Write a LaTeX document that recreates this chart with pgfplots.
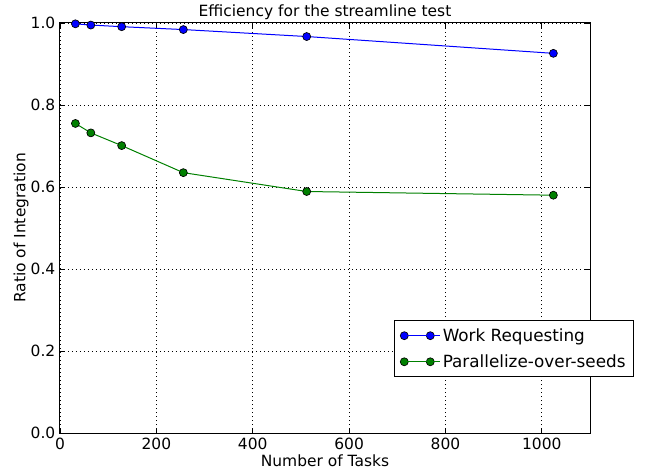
\documentclass[border=0pt]{standalone}
\usepackage{fontspec}
\setmainfont{DejaVu Sans}
\usepackage{pgfplots}
\pgfplotsset{compat=1.18}
\usetikzlibrary{calc}
\definecolor{mplblue}{RGB}{0,0,255}
\definecolor{mplgreen}{RGB}{0,128,0}
\begin{document}
\begin{tikzpicture}[font=\fontsize{11.6}{14}\selectfont]
\begin{axis}[
  scale only axis, width=397.5pt, height=307.5pt,
  xmin=0, xmax=1100, ymin=0, ymax=1,
  xtick={0,200,400,600,800,1000},
  ytick={0,0.2,0.4,0.6,0.8,1.0},
  xticklabel style={/pgf/number format/1000 sep={}},
  yticklabel style={/pgf/number format/fixed,
    /pgf/number format/fixed zerofill, /pgf/number format/precision=1},
  /pgf/number format/assume math mode=true,
  tick align=inside, major tick length=3.75pt,
  tick style={black, line width=0.6pt},
  axis line style={line width=0.75pt},
  grid=major,
  grid style={black, line width=0.5pt, dash pattern=on 0.75pt off 2.25pt},
  every axis title shift=0pt,
  title={Efficiency for the streamline test},
  title style={at={(axis description cs:0.5,1)}, anchor=base, yshift=5pt},
  xlabel={Number of Tasks}, ylabel={Ratio of Integration},
  xlabel style={at={(axis description cs:0.5,0)}, anchor=base, yshift=-25pt},
  ylabel style={at={(axis description cs:-0.0736,0.5)}, anchor=center},
  legend cell align=left,
  legend style={at={(rel axis cs:1.083,0.1366)}, anchor=south east,
    font=\fontsize{12.6}{15}\selectfont,
    draw=black, line width=0.75pt, row sep=4.5pt, inner xsep=4pt, inner ysep=3.5pt},
  legend image code/.code={\draw[mark repeat=2,mark phase=1,#1]
    plot coordinates {(0pt,0pt) (9.75pt,0pt) (19.5pt,0pt)};
    \path (0pt,0pt) -- (26.5pt,0pt);},
]
\coordinate (bl) at (rel axis cs:0,0);
\coordinate (tr) at (rel axis cs:1,1);
\addplot[color=mplblue, line width=0.75pt, mark=*, mark size=3pt,
  mark options={draw=black, fill=mplblue, line width=0.5pt}]
  coordinates {(32,0.998)(64,0.995)(128,0.991)(256,0.984)(512,0.967)(1024,0.926)};
\addlegendentry{Work Requesting}
\addplot[color=mplgreen, line width=0.75pt, mark=*, mark size=3pt,
  mark options={draw=black, fill=mplgreen, line width=0.5pt}]
  coordinates {(32,0.755)(64,0.732)(128,0.701)(256,0.635)(512,0.589)(1024,0.580)};
\addlegendentry{Parallelize-over-seeds}
\end{axis}
\pgfresetboundingbox
\path ($(bl)+(-45pt,-29.25pt)$) rectangle ($(tr)+(45pt,17.25pt)$);
\end{tikzpicture}
\end{document}
